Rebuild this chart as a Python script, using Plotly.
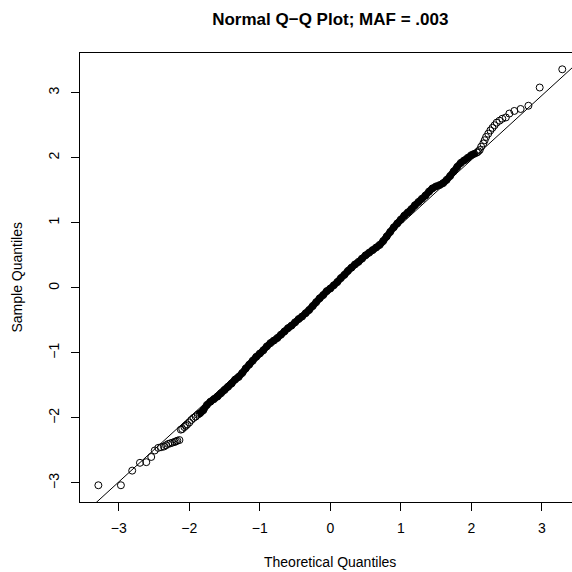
import plotly.graph_objects as go

# ---- data ----
# lower tail (individually visible points)
low_x = [-3.29, -2.97, -2.81, -2.70, -2.61, -2.54, -2.49, -2.44, -2.40, -2.36, -2.33,
         -2.30, -2.27, -2.24, -2.21, -2.19, -2.17, -2.14, -2.12, -2.10, -2.07, -2.05,
         -2.03, -2.00, -1.97, -1.94, -1.91]
low_y = [-3.035, -3.035, -2.81, -2.69, -2.68, -2.60, -2.50, -2.46, -2.45, -2.44, -2.42,
         -2.40, -2.39, -2.38, -2.37, -2.36, -2.35, -2.34, -2.18, -2.17, -2.14, -2.12,
         -2.10, -2.07, -2.03, -2.00, -1.98]

# dense central band
mid_x = [-1.88, -1.85, -1.80, -1.75, -1.70, -1.65, -1.60,
         -1.55, -1.50, -1.45, -1.40, -1.35, -1.30, -1.25, -1.20, -1.15, -1.10, -1.05,
         -1.00, -0.95, -0.90, -0.85, -0.80, -0.75, -0.70, -0.65, -0.60, -0.55, -0.50,
         -0.45, -0.40, -0.35, -0.30, -0.25, -0.20, -0.15, -0.10, -0.05, 0.00, 0.05,
         0.10, 0.15, 0.20, 0.25, 0.30, 0.35, 0.40, 0.45, 0.50, 0.55, 0.60, 0.65, 0.70,
         0.75, 0.80, 0.85, 0.90, 0.95, 1.00, 1.05, 1.10, 1.15, 1.20, 1.25, 1.30, 1.35,
         1.40, 1.45, 1.50, 1.55, 1.60, 1.65, 1.70, 1.75, 1.80, 1.85, 1.90, 1.95, 2.00,
         2.04, 2.08]
mid_y = [-1.95, -1.93, -1.88, -1.80, -1.75, -1.71, -1.67,
         -1.62, -1.57, -1.52, -1.47, -1.41, -1.37, -1.31, -1.24, -1.18, -1.12, -1.06,
         -1.01, -0.96, -0.90, -0.85, -0.81, -0.77, -0.72, -0.67, -0.62, -0.58, -0.53,
         -0.48, -0.44, -0.39, -0.34, -0.28, -0.22, -0.16, -0.11, -0.05, -0.01, 0.04,
         0.09, 0.15, 0.20, 0.26, 0.31, 0.36, 0.40, 0.45, 0.50, 0.54, 0.58, 0.62, 0.66,
         0.72, 0.79, 0.86, 0.93, 0.99, 1.05, 1.11, 1.16, 1.21, 1.27, 1.32, 1.37, 1.42,
         1.48, 1.53, 1.56, 1.58, 1.61, 1.66, 1.72, 1.79, 1.86, 1.92, 1.96, 2.00, 2.04,
         2.06, 2.08]

# upper tail (individually visible points)
up_x = [2.10, 2.12, 2.14, 2.17, 2.19, 2.21, 2.24, 2.27, 2.30, 2.33, 2.36, 2.40, 2.44,
        2.49, 2.54, 2.61, 2.70, 2.81, 2.97, 3.29]
up_y = [2.10, 2.12, 2.17, 2.22, 2.27, 2.32, 2.37, 2.42, 2.46, 2.50, 2.54, 2.57, 2.60,
        2.62, 2.68, 2.72, 2.75, 2.80, 3.08, 3.36]

# reference line (qqline): intercept and slope
line_a = -0.013
line_b = 0.99
line_x = [-3.7, 3.6]

x_ticks = [-3, -2, -1, 0, 1, 2, 3]
y_ticks = [-3, -2, -1, 0, 1, 2, 3]

title_text = "Normal Q\u2212Q Plot; MAF = .003"
x_title = "Theoretical Quantiles"
y_title = "Sample Quantiles"

FONT = "Liberation Sans, Arial, Helvetica, sans-serif"

fig = go.Figure()

# thick band for the dense overlapping centre
fig.add_trace(go.Scatter(x=mid_x, y=mid_y, mode="lines",
                         line=dict(color="black", width=7, shape="spline"),
                         hoverinfo="skip", showlegend=False))

all_x = low_x + mid_x + up_x
all_y = low_y + mid_y + up_y
fig.add_trace(go.Scatter(x=all_x, y=all_y, mode="markers",
                         marker=dict(symbol="circle-open", size=7, color="black",
                                     line=dict(width=1, color="black")),
                         showlegend=False))

fig.add_trace(go.Scatter(x=line_x, y=[line_a + line_b * v for v in line_x], mode="lines",
                         line=dict(color="black", width=1), showlegend=False,
                         hoverinfo="skip"))

W = H = 572
left, right, top, bottom = 80, 572, 53.3, 502
x0_px, x_scale = 330.3, 70.5
y0_px, y_scale = 288.0, 65.0
xr = [(left - x0_px) / x_scale, (right - x0_px) / x_scale]
yr = [(y0_px - bottom) / y_scale, (y0_px - top) / y_scale]

fig.update_layout(
    width=W, height=H,
    margin=dict(l=left, r=W - right, t=top, b=H - bottom, pad=0),
    paper_bgcolor="white", plot_bgcolor="white",
    font=dict(family=FONT, size=14, color="black"),
    title=dict(text="<b>" + title_text + "</b>", font=dict(family=FONT, size=17, color="black"),
               xref="container", yref="container", x=330.3 / W, xanchor="center",
               y=1 - 19 / H, yanchor="middle"),
    xaxis=dict(range=xr, tickvals=x_ticks, ticks="outside", ticklen=8, tickwidth=1,
               tickcolor="black", showline=True, linecolor="black", linewidth=1,
               mirror=True, showgrid=False, zeroline=False, ticklabelstandoff=5,
               tickfont=dict(family=FONT, size=14, color="black")),
    yaxis=dict(range=yr, tickvals=y_ticks, ticks="outside", ticklen=8, tickwidth=1,
               tickcolor="black", showline=True, linecolor="black", linewidth=1,
               mirror=False, showgrid=False, zeroline=False, tickangle=-90,
               ticklabelstandoff=6,
               tickfont=dict(family=FONT, size=14, color="black")),
    annotations=[
        dict(text=x_title, xref="paper", yref="paper", x=(330.3 - left) / (right - left),
             y=-(562 - bottom) / (bottom - top), xanchor="center", yanchor="middle",
             showarrow=False, font=dict(family=FONT, size=14, color="black")),
        dict(text=y_title, xref="paper", yref="paper", x=-(left - 17) / (right - left),
             y=(bottom - 277.7) / (bottom - top), xanchor="center", yanchor="middle",
             textangle=-90, showarrow=False, font=dict(family=FONT, size=14, color="black")),
    ],
)

fig.write_html("out.html")
